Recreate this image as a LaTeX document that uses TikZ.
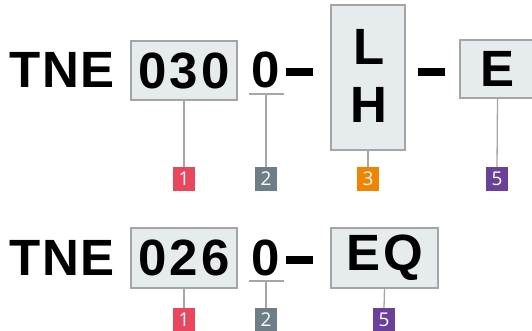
\documentclass[tikz,border=0pt]{standalone}
\usepackage{fontspec}
\setmainfont{Liberation Sans}
\newfontfamily\brandfont[LetterSpace=3]{Liberation Sans}
\newfontfamily\codefont[LetterSpace=6]{Liberation Sans}
\newfontfamily\tagfont{Open Sans}
\usetikzlibrary{positioning}
\definecolor{CodeInk}{HTML}{000000}
\definecolor{CodeFill}{HTML}{E6EBEE}
\definecolor{CodeEdge}{HTML}{A3A5A6}
\definecolor{LeadGrey}{HTML}{A6A6A6}
\definecolor{TagRed}{HTML}{E8475E}
\definecolor{TagSlate}{HTML}{6E7E87}
\definecolor{TagOrange}{HTML}{F18300}
\definecolor{TagPurple}{HTML}{6A409A}
\tikzset{
  every node/.style={text=CodeInk, inner sep=0pt},
  brand/.style={font=\brandfont\bfseries\fontsize{51}{58}\selectfont},
  code/.style={font=\codefont\bfseries\fontsize{51}{58}\selectfont},
  field/.style={code, draw=CodeEdge, line width=1.5pt, fill=CodeFill,
    minimum width=106pt, minimum height=59pt},
  bar/.style={fill=CodeInk, minimum width=27pt, minimum height=8pt},
  leader/.style={draw=LeadGrey, line width=1.3pt},
  tag/.style={font=\tagfont\fontsize{19}{19}\selectfont, text=white,
    minimum width=22pt, minimum height=24pt},
}

\begin{document}
\begin{tikzpicture}[x=1pt, y=-1pt]
  \useasboundingbox (0,0) rectangle (532,331);
  % Row 1: TNE 030 0-LH-E
  \node[brand] (tneA) at (62,70) {TNE};
  \node[field] (sizeA) at (184,70.5) {030};
  \node[code] (zeroA) at (266,70) {0};
  \draw[leader] (249,94) -- (284,94);
  \coordinate (lineA) at (266,94);
  \node[bar] (dashA) at (299.5,72.5) {};
  \node[field, minimum width=74pt, minimum height=145pt] (sideA) at (368,77.5) {};
  \node[code] (sideL) at (369,46.5) {L};
  \node[code] (sideH) at (369,105) {H};
  \node[bar] (dashB) at (431,72.5) {};
  \node[field, minimum width=75pt, minimum height=58pt] (endA) at (497.5,69) {E};
  \node[tag, fill=TagRed] (tag1A) at (184,179) {1};
  \node[tag, fill=TagSlate] (tag2A) at (266,179) {2};
  \node[tag, fill=TagOrange] (tag3A) at (368,179) {3};
  \node[tag, fill=TagPurple] (tag5A) at (497,179) {5};
  \draw[leader] (sizeA.south) -- (tag1A.north);
  \draw[leader] (lineA) -- (tag2A.north);
  \draw[leader] (sideA.south) -- (tag3A.north);
  \draw[leader] (endA.south) -- (tag5A.north);
  % Row 2: TNE 026 0-EQ
  \node[brand] (tneB) at (62,258) {TNE};
  \node[field, minimum height=60pt] (sizeB) at (184,258) {026};
  \node[code] (zeroB) at (266,258) {0};
  \draw[leader] (249,281) -- (284,281);
  \coordinate (lineB) at (266,281);
  \node[bar] (dashC) at (299,260) {};
  \node[field, minimum width=107pt, minimum height=60pt] (endB) at (384.5,258) {EQ};
  \node[tag, fill=TagRed] (tag1B) at (184,320) {1};
  \node[tag, fill=TagSlate] (tag2B) at (266,320) {2};
  \node[tag, fill=TagPurple] (tag5B) at (384,320) {5};
  \draw[leader] (sizeB.south) -- (tag1B.north);
  \draw[leader] (lineB) -- (tag2B.north);
  \draw[leader] (endB.south) -- (tag5B.north);
\end{tikzpicture}
\end{document}
